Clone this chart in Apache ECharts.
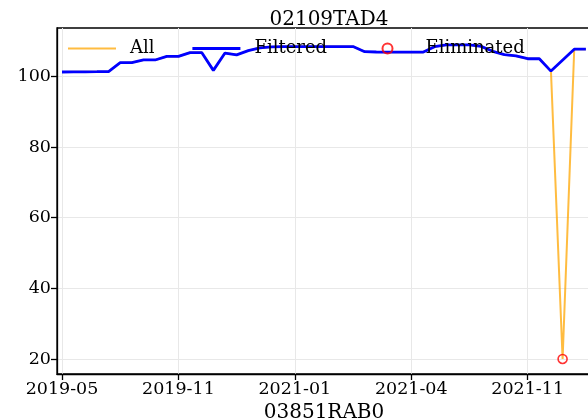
<!DOCTYPE html>
<html>
<head>
<meta charset="utf-8">
<script src="https://cdn.jsdelivr.net/npm/echarts@6/dist/echarts.min.js"></script>
<style>
    html, body { margin: 0; padding: 0; background: #fff; }
    #chart { width: 588px; height: 419px; }
</style>
</head>
<body>
<div id="chart"></div>
<script>
const allValues = [
    101.25, 101.28, 101.3, 101.33, 101.38, 103.88, 103.9, 104.65, 104.65, 105.65,
    105.65, 106.75, 106.75, 101.7, 106.6, 106.1, 107.3, 108.1, 108.35, 108.45,
    108.45, 108.45, 108.45, 108.45, 108.45, 108.45, 107.0, 106.9, 106.85, 106.85,
    106.85, 106.85, 108.4, 108.9, 108.9, 108.9, 108.5, 107.1, 106.15, 105.8,
    105.0, 105.0, 101.5, 20.0, 107.7, 107.7
];
const filteredValues = [
    101.25, 101.28, 101.3, 101.33, 101.38, 103.88, 103.9, 104.65, 104.65, 105.65,
    105.65, 106.75, 106.75, 101.7, 106.6, 106.1, 107.3, 108.1, 108.35, 108.45,
    108.45, 108.45, 108.45, 108.45, 108.45, 108.45, 107.0, 106.9, 106.85, 106.85,
    106.85, 106.85, 108.4, 108.9, 108.9, 108.9, 108.5, 107.1, 106.15, 105.8,
    105.0, 105.0, 101.5, null, 107.7, 107.7
];
const eliminatedIdx = [43];
const eliminatedValues = [20.0];

const xTickPos = [0, 10, 20, 30, 40];
const xTickLabels = ['2019-05', '2019-11', '2021-01', '2021-04', '2021-11'];
const yTicks = [20, 40, 60, 80, 100];

const font = 'DejaVu Serif';

let chart = echarts.init(document.getElementById('chart'));

const toPairs = arr => arr.map((v, i) => [i, v]);

// one legend box per entry so each sits where the original put it
const legendBox = (name, left, extra) => ({
    left: left,
    top: 39.5,
    padding: 0,
    align: 'left',
    itemWidth: 48,
    itemHeight: 10,
    textStyle: { fontFamily: font, fontSize: 18, color: '#000', padding: [0, 0, 0, 9] },
    data: [Object.assign({ name: name }, extra)]
});

chart.setOption({
    animation: false,
    backgroundColor: '#fff',
    title: {
        text: '02109TAD4',
        left: 324,
        top: 5,
        textAlign: 'center',
        textStyle: { fontFamily: font, fontSize: 20, fontWeight: 'normal', color: '#000' }
    },
    legend: [
        legendBox('All', 67, { itemStyle: { opacity: 0 } }),
        legendBox('Filtered', 191, { itemStyle: { opacity: 0 }, lineStyle: { width: 2.8 } }),
        legendBox('Eliminated', 380, { icon: 'circle' })
    ],
    grid: {
        left: 57,
        top: 28,
        right: -3,
        bottom: 45,
        outerBoundsMode: 'none',
        containLabel: false,
        show: true,
        borderColor: '#000',
        borderWidth: 1.3
    },
    xAxis: {
        type: 'value',
        min: -0.43,
        max: 45.44,
        name: '03851RAB0',
        nameLocation: 'middle',
        nameGap: 28,
        nameTextStyle: { fontFamily: font, fontSize: 20, color: '#000' },
        axisLine: { show: true, onZero: false, lineStyle: { color: '#000', width: 1.3 } },
        axisTick: { show: true, length: 6, customValues: xTickPos, lineStyle: { color: '#000', width: 1.3 } },
        axisLabel: {
            customValues: xTickPos,
            margin: 6,
            fontFamily: font,
            fontSize: 17.5,
            color: '#000',
            formatter: v => xTickLabels[xTickPos.indexOf(v)] || ''
        },
        splitLine: { show: true, lineStyle: { color: '#e8e8e8', width: 1 } }
    },
    yAxis: {
        type: 'value',
        min: 15.75,
        max: 113.7,
        axisLine: { show: true, onZero: false, lineStyle: { color: '#000', width: 1.3 } },
        axisTick: { show: true, length: 6, customValues: yTicks, lineStyle: { color: '#000', width: 1.3 } },
        axisLabel: {
            customValues: yTicks,
            margin: 6,
            fontFamily: font,
            fontSize: 17.5,
            color: '#000'
        },
        splitLine: { show: true, lineStyle: { color: '#e8e8e8', width: 1 } }
    },
    series: [
        {
            name: 'All',
            type: 'line',
            data: toPairs(allValues),
            symbol: 'none',
            z: 2,
            lineStyle: { color: '#ffa500', width: 2, opacity: 0.75 },
            itemStyle: { color: '#ffa500', opacity: 0.75 }
        },
        {
            name: 'Filtered',
            type: 'line',
            data: toPairs(filteredValues),
            connectNulls: true,
            symbol: 'none',
            z: 3,
            lineStyle: { color: '#0000ff', width: 2.8 },
            itemStyle: { color: '#0000ff' }
        },
        {
            name: 'Eliminated',
            type: 'scatter',
            data: eliminatedIdx.map((x, i) => [x, eliminatedValues[i]]),
            symbol: 'circle',
            symbolSize: 9,
            z: 4,
            itemStyle: { color: 'none', borderColor: '#ff0000', borderWidth: 1.6 }
        }
    ]
});

window.addEventListener('resize', () => {
    chart.resize();
});
</script>
</body>
</html>
